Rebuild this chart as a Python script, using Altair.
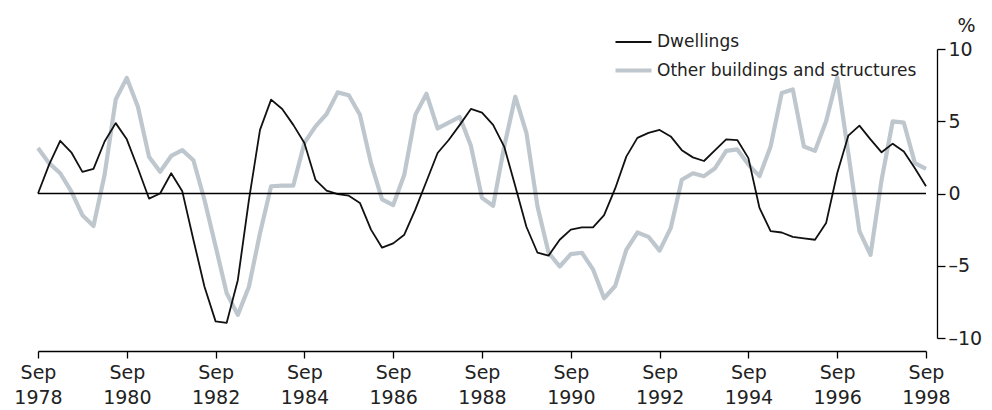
import altair as alt
import pandas as pd

# Quarterly, Sep 1978 .. Sep 1998 (81 quarters)
start_year = 1978.75
series_names = ["Dwellings", "Other buildings and structures"]
tick_years = [1978.75, 1980.75, 1982.75, 1984.75, 1986.75, 1988.75,
              1990.75, 1992.75, 1994.75, 1996.75, 1998.75]
y_ticks = [-10, -5, 0, 5, 10]

dwellings = [
    0.0, 2.0, 3.65, 2.85, 1.5, 1.7, 3.6, 4.87, 3.75, 1.75,
    -0.35, 0.0, 1.4, 0.15, -3.2, -6.45, -8.85, -8.95, -6.0, -0.45,
    4.4, 6.5, 5.85, 4.75, 3.5, 0.95, 0.2, -0.05, -0.15, -0.65,
    -2.5, -3.75, -3.45, -2.85, -1.1, 0.85, 2.8, 3.7, 4.75, 5.85,
    5.6, 4.75, 3.25, 0.5, -2.3, -4.1, -4.3, -3.2, -2.5, -2.35,
    -2.35, -1.5, 0.35, 2.55, 3.85, 4.2, 4.4, 3.95, 3.0, 2.5,
    2.25, 3.0, 3.75, 3.7, 2.45, -1.0, -2.6, -2.7, -3.0, -3.1,
    -3.2, -2.05, 1.4, 4.0, 4.7, 3.75, 2.85, 3.45, 2.9, 1.75,
    0.5,
]
other = [
    3.15, 2.1, 1.4, 0.15, -1.5, -2.25, 1.3, 6.5, 8.0, 6.0,
    2.55, 1.5, 2.6, 3.0, 2.3, -0.45, -3.65, -6.9, -8.4, -6.45,
    -2.75, 0.5, 0.55, 0.55, 3.5, 4.65, 5.5, 7.0, 6.8, 5.45,
    2.1, -0.4, -0.8, 1.3, 5.45, 6.9, 4.5, 4.9, 5.3, 3.3,
    -0.3, -0.85, 3.25, 6.7, 4.2, -0.9, -4.1, -5.05, -4.2, -4.1,
    -5.25, -7.25, -6.4, -3.9, -2.7, -3.0, -3.95, -2.4, 0.95, 1.4,
    1.2, 1.75, 2.95, 3.05, 2.0, 1.2, 3.25, 6.95, 7.2, 3.25,
    2.95, 5.0, 8.05, 2.8, -2.6, -4.25, 0.95, 5.0, 4.9, 2.1,
    1.7,
]

rows = []
# grey series first so the black line is drawn on top
for name, vals in ((series_names[1], other), (series_names[0], dwellings)):
    for i, v in enumerate(vals):
        rows.append({"t": start_year + i / 4, "series": name, "value": v})
df = pd.DataFrame(rows)

FONT = "DejaVu Sans"
TXT = "#222222"

x = alt.X(
    "t:Q",
    scale=alt.Scale(domain=[tick_years[0], tick_years[-1]], nice=False, zero=False),
    axis=alt.Axis(
        values=tick_years,
        labelExpr="['Sep', '' + floor(datum.value)]",
        title=None, grid=False, orient="bottom", offset=13,
        tickSize=7, labelPadding=5, labelFontSize=19, labelLineHeight=25,
        labelFont=FONT, labelColor=TXT, domainColor="black", tickColor="black",
        domainWidth=1.3, tickWidth=1.3, labelFlush=False, labelOverlap=False,
    ),
)

y_axis = alt.Axis(
    orient="right", values=y_ticks, offset=11, tickSize=8, labelPadding=3,
    labelFontSize=19, labelFont=FONT, labelColor=TXT, grid=False,
    domainColor="black", tickColor="black", domainWidth=1.3, tickWidth=1.3,
    labelExpr="datum.value < 0 ? '\u2013' + abs(datum.value) : '' + datum.value",
    title="%", titleAngle=0, titleX=29, titleY=-18, titleAlign="center",
    titleBaseline="alphabetic", titleFontWeight="normal", titleFontSize=19,
    titleFont=FONT, titleColor=TXT, labelFlush=False,
)
y_scale = alt.Scale(domain=[-10, 10], nice=False)

legend = alt.Legend(
    title=None, orient="none", legendX=575, legendY=-26,
    symbolType="stroke", symbolSize=1296, labelFontSize=17, labelFont=FONT,
    labelColor=TXT, labelOffset=3, rowPadding=-21, padding=0, labelLimit=500,
)

lines = alt.Chart(df).mark_line(strokeJoin="round").encode(
    x=x,
    y=alt.Y("value:Q", scale=y_scale, axis=y_axis),
    color=alt.Color("series:N",
                    scale=alt.Scale(domain=series_names, range=["#111111", "#bfc7ce"]),
                    legend=legend),
    strokeWidth=alt.StrokeWidth("series:N",
                                scale=alt.Scale(domain=series_names, range=[1.8, 4.2]),
                                legend=legend),
)

zero = alt.Chart(pd.DataFrame({"zero": [0]})).mark_rule(
    color="black", strokeWidth=1.6
).encode(y=alt.Y("zero:Q", scale=y_scale, axis=y_axis))

chart = alt.layer(lines, zero).properties(
    width=888, height=289,
    autosize=alt.AutoSizeParams(type="none"),
    padding={"left": 30, "top": 41, "right": 58, "bottom": 72},
).configure(background="white").configure_view(stroke=None)

chart.save("out.html", embed_options={"renderer": "svg", "actions": False})
